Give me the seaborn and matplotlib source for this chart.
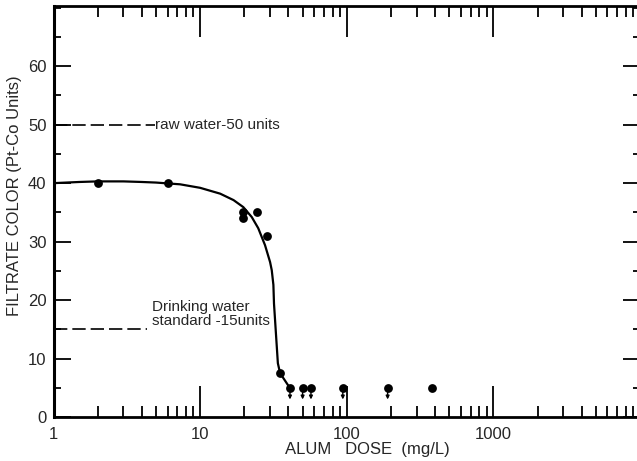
import matplotlib
matplotlib.use("Agg")
import matplotlib.pyplot as plt
from matplotlib.ticker import FixedLocator, MultipleLocator, LogLocator, NullFormatter
import seaborn as sns

# Jar-test results: filtrate colour measured at each alum dose
dose = [2, 6, 19.5, 19.5, 24.5, 28.5, 35, 41, 50, 57, 94, 190, 380]
color = [40, 40, 35, 34, 35, 31, 7.5, 5, 5, 5, 5, 5, 5]
# results at the detection limit (drawn with a downward arrow)
below_limit = [False, False, False, False, False, False, False,
               True, True, True, True, True, False]

# smooth trend drawn through the measurements
curve_dose = [1, 1.5, 2, 3, 4, 5, 7.3, 10, 13.7, 16.9, 19.7, 22.5, 24.9,
              27.7, 30.0, 30.8, 31.6, 31.9, 33.0, 33.9, 35.1, 41.1]
curve_color = [40.0, 40.2, 40.3, 40.3, 40.2, 40.1, 39.8, 39.2, 38.2, 37.1,
               35.9, 34.2, 32.3, 29.4, 26.5, 25.1, 22.6, 19.4, 13.7, 9.2,
               7.5, 4.9]

# reference levels
raw_water_level = 50
raw_water_end = 4.9
standard_level = 15
standard_end = 4.33

x_ticks = [1, 10, 100, 1000]
x_tick_labels = ["1", "10", "100", "1000"]
y_ticks = [0, 10, 20, 30, 40, 50, 60]
y_tick_labels = ["0", "10", "20", "30", "40", "50", "60"]

sns.set_style("ticks")
plt.rcParams["font.family"] = ["Liberation Sans", "DejaVu Sans"]

fig = plt.figure(figsize=(6.37, 4.61), dpi=100)
ax = fig.add_axes([53.5 / 637, 1 - 417 / 461, 586.5 / 637, 411 / 461])
ax.set_xscale("log")

sns.lineplot(x=curve_dose, y=curve_color, ax=ax, color="black", lw=1.6,
             sort=False, estimator=None)
sns.scatterplot(x=dose, y=color, ax=ax, color="black", s=40,
                edgecolor="black", linewidth=0, zorder=3)

for d, c, flag in zip(dose, color, below_limit):
    if flag:
        ax.annotate("", xy=(d, c - 2.0), xytext=(d, c - 0.6),
                    arrowprops=dict(arrowstyle="-|>", color="black", lw=1.0,
                                    mutation_scale=5, shrinkA=0, shrinkB=0))

dash = (0, (8, 3))
ax.plot([1, raw_water_end], [raw_water_level, raw_water_level],
        color="black", lw=1.2, ls=dash)
ax.text(raw_water_end * 1.01, raw_water_level, "raw water-50 units",
        fontsize=11, va="center", ha="left")
ax.plot([1, standard_end], [standard_level, standard_level],
        color="black", lw=1.2, ls=dash)
ax.text(4.69, 17.6, "Drinking water\nstandard -15units", fontsize=11,
        va="center", ha="left", linespacing=0.95)

ax.set_xlim(1, 10000)
ax.set_ylim(0, 70.3)

ax.xaxis.set_major_locator(FixedLocator(x_ticks))
ax.set_xticklabels(x_tick_labels)
ax.xaxis.set_minor_locator(LogLocator(base=10, subs=range(2, 10)))
ax.xaxis.set_minor_formatter(NullFormatter())
ax.yaxis.set_major_locator(FixedLocator(y_ticks))
ax.set_yticklabels(y_tick_labels)
ax.yaxis.set_minor_locator(MultipleLocator(5))

ax.tick_params(axis="both", which="both", direction="in", top=True,
               right=True, width=1.3, color="black", labelsize=12)
ax.tick_params(axis="x", which="major", length=22, pad=7)
ax.tick_params(axis="x", which="minor", length=8)
ax.tick_params(axis="y", which="major", length=12, pad=5)
ax.tick_params(axis="y", which="minor", length=5)

for side, lw in (("left", 2.2), ("bottom", 2.0), ("top", 2.0)):
    ax.spines[side].set_linewidth(lw)
    ax.spines[side].set_color("black")
ax.spines["right"].set_visible(False)

ax.set_xlabel("ALUM   DOSE  (mg/L)", fontsize=12)
ax.xaxis.set_label_coords(0.536, -0.062)
ax.set_ylabel("FILTRATE COLOR (Pt-Co Units)", fontsize=12)
ax.yaxis.set_label_coords(-0.053, 0.538)

fig.savefig("out.png", dpi=100)
